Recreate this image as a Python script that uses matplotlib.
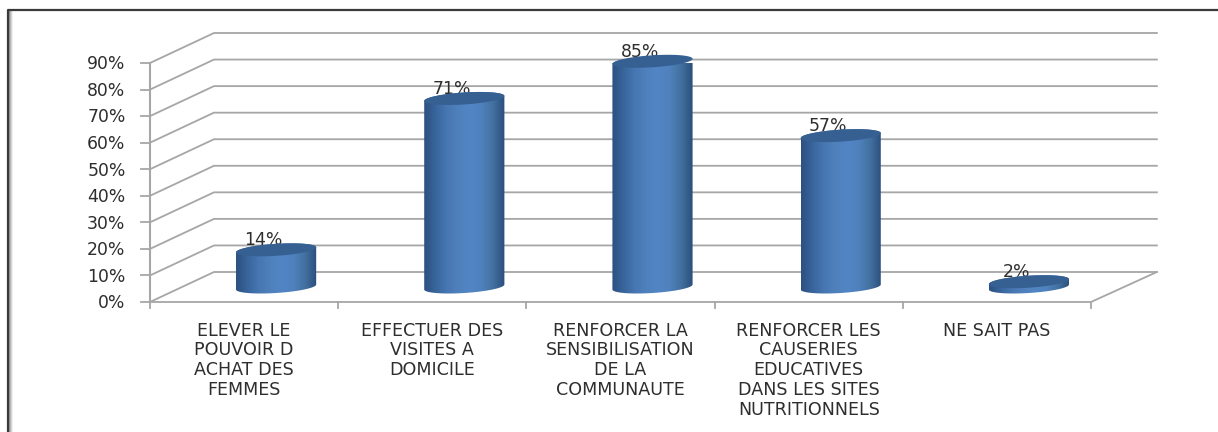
import numpy as np
import matplotlib
matplotlib.use("Agg")
import matplotlib.pyplot as plt
from matplotlib.patches import PathPatch
from matplotlib.path import Path
from matplotlib.colors import LinearSegmentedColormap

categories = ["ELEVER LE\nPOUVOIR D\nACHAT DES\nFEMMES",
              "EFFECTUER DES\nVISITES A\nDOMICILE",
              "RENFORCER LA\nSENSIBILISATION\nDE LA\nCOMMUNAUTE",
              "RENFORCER LES\nCAUSERIES\nEDUCATIVES\nDANS LES SITES\nNUTRITIONNELS",
              "NE SAIT PAS"]
values = [14, 71, 85, 57, 2]
yticks = [0, 10, 20, 30, 40, 50, 60, 70, 80, 90]

W, H = 1218, 432
grid_col = "#a6a6a6"
txt_col = "#2e2e2e"

fig = plt.figure(figsize=(W/100, H/100), dpi=100)
# axes = front plane of the 3d box
ax = fig.add_axes([150/W, 1-302/H, 941/W, 239/H])
ax.set_xlim(0, 5)
ax.set_ylim(0, 90)
ax.patch.set_visible(False)
for s in ax.spines.values():
    s.set_visible(False)
ax.set_xticks([])
ax.set_yticks([])

# depth of the box, in data units
dx = 64/(941/5)
dy = 30/(239/90)

for t in yticks:
    ax.plot([0, dx, 5+dx+0.01], [t, t+dy, t+dy], color=grid_col, lw=1.3, clip_on=False, zorder=1)
    ax.plot([-0.048, 0], [t, t], color=grid_col, lw=1.3, clip_on=False, zorder=1)
    ax.text(-0.13, t-0.5, "%d%%" % t, ha="right", va="center", fontsize=12.4, color=txt_col, clip_on=False)
ax.plot([0, 0], [0, 90], color=grid_col, lw=1.5, clip_on=False, zorder=1)
ax.plot([0, 5, 5+dx+0.01], [0, 0, dy], color=grid_col, lw=1.3, clip_on=False, zorder=1)
for i in range(6):
    ax.plot([i, i], [0, -2.2], color=grid_col, lw=1.3, clip_on=False, zorder=1)

# cylinder gradient
cyl = LinearSegmentedColormap.from_list("cyl", ["#2c5080", "#38659c", "#4777b2", "#4f81bd", "#5285c4", "#4f81bd", "#42709f", "#2b4e7c"])
grad = np.linspace(0, 1, 256).reshape(1, -1)
rx = 0.213
ry = 6/(239/90)
shear = 2.5/(239/90)
th = np.linspace(0, 2*np.pi, 100)

for i, v in enumerate(values):
    cx = i+0.5+dx/2
    y0 = dy/2
    y1 = y0+v
    # outline: lower half of base + upper half of top
    t_low = np.linspace(np.pi, 2*np.pi, 50)
    t_up = np.linspace(0, np.pi, 50)
    xs = np.r_[cx+rx*np.cos(t_low), cx+rx*np.cos(t_up)]
    ys = np.r_[y0-ry*np.abs(np.sin(t_low))+shear*np.cos(t_low), y1+ry*np.sin(t_up)+shear*np.cos(t_up)]
    im = ax.imshow(grad, extent=[cx-rx, cx+rx, y0-ry*2, y1+ry*2], aspect="auto", cmap=cyl, zorder=3)
    im.set_clip_path(PathPatch(Path(np.c_[xs, ys]), transform=ax.transData))
    # top ellipse
    ax.fill(cx+rx*np.cos(th), y1+ry*np.sin(th)+shear*np.cos(th), color="#376092", zorder=4, clip_on=False, lw=0)
    # value label sits behind the cylinder top
    ax.text(cx-0.068, y1+3.6, "%d%%" % v, ha="center", va="center", fontsize=12.4, color=txt_col, zorder=2, clip_on=False)
    ax.text(i+0.5, -7.4, categories[i], ha="center", va="top", fontsize=12.6, color=txt_col, linespacing=1.13, clip_on=False)
ax.set_xlim(0, 5)
ax.set_ylim(0, 90)

# outer frame
frame = fig.add_axes([0, 0, 1, 1], zorder=-1)
frame.axis("off")
frame.imshow(np.linspace(0.55, 1, 32).reshape(1, -1), extent=[9, 13, H, 11], aspect="auto", cmap="gray", vmin=0, vmax=1)
frame.plot([8, 8, W], [H, 10, 10], color="#3a3a3a", lw=1.6)
frame.set_xlim(0, W)
frame.set_ylim(H, 0)

fig.savefig("out.png", dpi=100)
